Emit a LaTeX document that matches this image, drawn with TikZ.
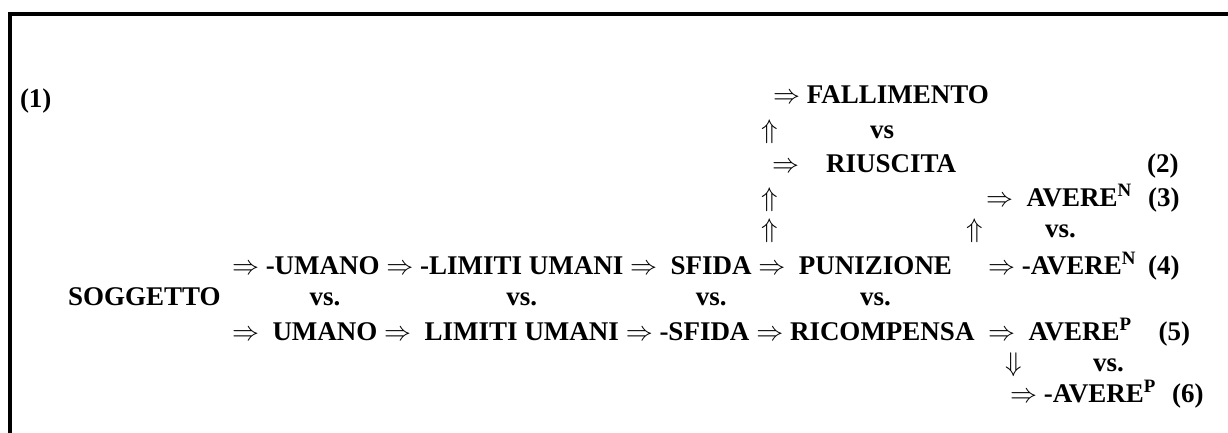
\documentclass[tikz,border=0pt]{standalone}
\usepackage{fix-cm}
\usepackage{fontspec}
\setmainfont{Liberation Serif}
\usepackage{tikz}
\usetikzlibrary{positioning}

\newcommand{\imp}{$\Rightarrow$}
\newcommand{\upimp}{$\Uparrow$}
\newcommand{\dnimp}{$\Downarrow$}

\tikzset{
	word/.style={anchor=base west, inner sep=0pt, outer sep=0pt},
	vsword/.style={anchor=base, inner sep=0pt, outer sep=0pt},
}

\begin{document}
\begin{tikzpicture}[x=1pt,y=-1pt,node distance=6.75pt,
	font=\fontsize{27}{32}\selectfont\bfseries]
	\useasboundingbox (0,0) rectangle (1228,433);
	\draw [line width=4pt] (10,433) -- (10,14) -- (1228,14);

	% Row 4: -UMANO ... PUNIZIONE
	\node [word] at (232,274) (6to1) {\imp};
	\node [word, base right=of 6to1] (6UM) {-UMANO};
	\node [word, base right=of 6UM] (6to2) {\imp};
	\node [word, base right=of 6to2] (6LIM) {-LIMITI UMANI};
	\node [word, base right=of 6LIM] (6to3) {\imp};
	\node [word, base right=13.5pt of 6to3] (6SF) {SFIDA};
	\node [word, base right=of 6SF] (6to4) {\imp};
	\node [word, base right=13.5pt of 6to4] (6PUN) {PUNIZIONE};
	\node [word, base right=36pt of 6PUN] (6to5) {\imp};
	\node [word, base right=of 6to5] (6AVN) {-AVERE\textsuperscript{N}};
	\node [word] at (1148,274) (n4) {(4)};

	% Row 5: UMANO ... RICOMPENSA
	\node [word] at (232,340) (8to1) {\imp};
	\node [word, base right=13.5pt of 8to1] (8UM) {UMANO};
	\node [word, base right=of 8UM] (8to2) {\imp};
	\node [word, base right=13.5pt of 8to2] (8LIM) {LIMITI UMANI};
	\node [word, base right=of 8LIM] (8to3) {\imp};
	\node [word, base right=of 8to3] (8SF) {-SFIDA};
	\node [word, base right=of 8SF] (8to4) {\imp};
	\node [word, base right=of 8to4] (8RIC) {RICOMPENSA};
	\node [word, base right=13.5pt of 8RIC] (8to5) {\imp};
	\node [word, base right=13.5pt of 8to5] (8AVP) {AVERE\textsuperscript{P}};
	\node [word, base right=27pt of 8AVP] (n5) {(5)};

	% SOGGETTO and the vs. between the two rows
	\node [word] at (68,305) (7SOG) {SOGGETTO};
	\node [vsword] at (8UM.center |- 7SOG.base) (7vs1) {vs.};
	\node [vsword] at (8LIM.center |- 7SOG.base) (7vs2) {vs.};
	\node [vsword] at (6SF.center |- 7SOG.base) (7vs3) {vs.};
	\node [vsword] at (6PUN.center |- 7SOG.base) (7vs4) {vs.};

	% Upper branch: FALLIMENTO vs RIUSCITA
	\node [word] at (20,108) (n1) {(1)};
	\node [word] at (773,104) (1to) {\imp};
	\node [word, base right=of 1to] (1FALL) {FALLIMENTO};
	\node [word] at (761,139) (2up) {\upimp};
	\node [word] at (870,139) (2vs) {vs};
	\node [word] at (772,172) (3to) {\imp};
	\node [word, base right=27pt of 3to] (3RIUS) {RIUSCITA};
	\node [word] at (1147,172) (n2) {(2)};
	\node [word] at (761,206) (4up) {\upimp};
	\node [word] at (986,206) (4to) {\imp};
	\node [word, base right=13.5pt of 4to] (4AVN) {AVERE\textsuperscript{N}};
	\node [word] at (1148,206) (n3) {(3)};
	\node [word] at (761,237) (5up) {\upimp};
	\node [word] at (966,237) (5up2) {\upimp};
	\node [word] at (1045,237) (5vs) {vs.};

	% Lower branch: -AVERE P
	\node [word] at (1005,371) (9dn) {\dnimp};
	\node [word] at (1093,371) (9vs) {vs.};
	\node [word] at (1010,402) (10to) {\imp};
	\node [word, base right=of 10to] (10AVP) {-AVERE\textsuperscript{P}};
	\node [word] at (1172,402) (n6) {(6)};
\end{tikzpicture}
\end{document}
